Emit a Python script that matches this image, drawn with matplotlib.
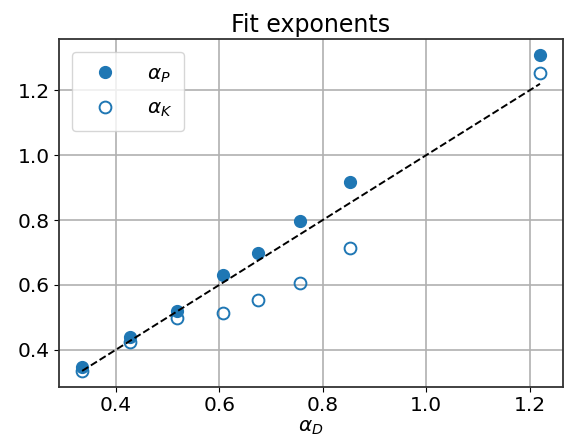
#!/usr/bin/env python3
"""Fit exponents scatter: alpha_P and alpha_K against alpha_D."""
import matplotlib

matplotlib.use("Agg")
import matplotlib.pyplot as plt

ALPHA_D = [0.335, 0.428, 0.519, 0.608, 0.675, 0.757, 0.852, 1.220]
ALPHA_P = [0.346, 0.438, 0.520, 0.630, 0.698, 0.796, 0.918, 1.309]
ALPHA_K = [0.336, 0.423, 0.498, 0.512, 0.553, 0.605, 0.715, 1.253]

X_TICKS = [0.4, 0.6, 0.8, 1.0, 1.2]
Y_TICKS = [0.4, 0.6, 0.8, 1.0, 1.2]


def main() -> int:
    plt.rcParams["font.size"] = 14.5
    fig = plt.figure(figsize=(5.64, 4.45), dpi=100)
    ax = fig.add_axes([0.105, 0.131, 0.893, 0.781])

    ax.plot(ALPHA_D, ALPHA_P, "o", color="C0", markersize=8.5, label=r"$\alpha_P$")
    ax.plot(ALPHA_D, ALPHA_K, "o", color="C0", markerfacecolor="none",
            markersize=8.5, markeredgewidth=1.4, label=r"$\alpha_K$")
    lo, hi = min(ALPHA_D), max(ALPHA_D)
    ax.plot([lo, hi], [lo, hi], "--", color="k", linewidth=1.4, zorder=3)

    ax.set_xticks(X_TICKS)
    ax.set_yticks(Y_TICKS)
    ax.grid(True, linewidth=1.2)
    ax.set_axisbelow(True)
    ax.set_xlabel(r"$\alpha_D$", labelpad=2)
    ax.set_title("Fit exponents", fontsize=17, pad=5)
    ax.legend(loc="upper left", handletextpad=1.1, borderpad=0.6,
              labelspacing=0.7, borderaxespad=0.65)
    for spine in ax.spines.values():
        spine.set_linewidth(1.3)
        spine.set_color("#333333")

    fig.savefig("out.png", dpi=100)
    plt.close(fig)
    return 0


if __name__ == "__main__":
    raise SystemExit(main())
